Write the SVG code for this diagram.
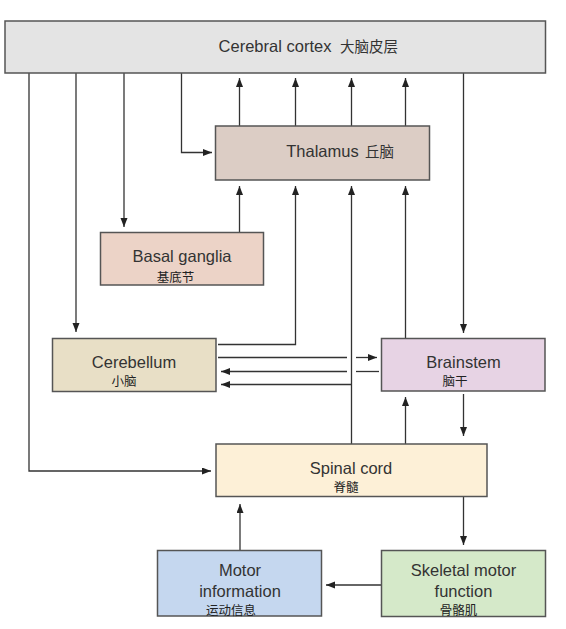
<svg xmlns="http://www.w3.org/2000/svg" width="566" height="629" viewBox="0 0 566 629">
<style>
.box{stroke:#555;stroke-width:1.5}
.en{font-family:"Liberation Sans",Arial,sans-serif;font-size:16.5px;fill:#333;text-anchor:middle}
.zh{font-family:"Noto Sans CJK SC",sans-serif;font-size:12.5px;fill:#222;text-anchor:middle}
.zhb{font-family:"Noto Sans CJK SC",sans-serif;font-size:14.5px;fill:#333}
.ln{fill:none;stroke:#333;stroke-width:1.3}
.ar{marker-end:url(#ah)}
</style>
<defs>
<marker id="ah" markerUnits="userSpaceOnUse" markerWidth="10" markerHeight="8" refX="9" refY="3.5" orient="auto">
<path d="M0,0 L9,3.5 L0,7 z" fill="#222"/>
</marker>
</defs>
<rect width="566" height="629" fill="#fff"/>
<g id="connectors">
<path class="ln ar" d="M29,73 V471 H211"/>
<path class="ln ar" d="M76,73 V332"/>
<path class="ln ar" d="M124,73 V227"/>
<path class="ln ar" d="M181.5,73 V152.5 H212"/>
<path class="ln ar" d="M463.5,73 V333"/>
<path class="ln ar" d="M239.5,126 V78"/>
<path class="ln ar" d="M295.5,126 V78"/>
<path class="ln ar" d="M351.5,126 V78"/>
<path class="ln ar" d="M405.5,126 V78"/>
<path class="ln ar" d="M239.5,232.5 V186"/>
<path class="ln ar" d="M218,344.5 H295.5 V186"/>
<path class="ln ar" d="M351.5,444 V186"/>
<path class="ln ar" d="M351.5,384.5 H221"/>
<path class="ln ar" d="M405.5,338 V186"/>
<path class="ln" d="M218,357.5 H347"/>
<path class="ln ar" d="M356,357.5 H377"/>
<path class="ln" d="M379,371.5 H356"/>
<path class="ln ar" d="M347,371.5 H221"/>
<path class="ln ar" d="M405.5,444 V397"/>
<path class="ln ar" d="M463.5,394 V436"/>
<path class="ln ar" d="M463.5,497 V545"/>
<path class="ln ar" d="M381,585 H326"/>
<path class="ln ar" d="M240,550.5 V504"/>
</g>
<g id="cortex">
<rect class="box" x="5" y="21" width="540.5" height="52" fill="#e4e4e4"/>
<text class="en" x="275" y="52" font-size="17">Cerebral cortex</text>
<text class="zhb" x="340" y="52">大脑皮层</text>
</g>
<g id="thalamus">
<rect class="box" x="215.5" y="126" width="214" height="54" fill="#dccdc5"/>
<text class="en" x="322.5" y="157">Thalamus</text>
<text class="zhb" x="365" y="157">丘脑</text>
</g>
<g id="basal-ganglia">
<rect class="box" x="100.5" y="232.5" width="163" height="52.5" fill="#ecd3c7"/>
<text class="en" x="182" y="262">Basal ganglia</text>
<text class="zh" x="175.5" y="281.5">基底节</text>
</g>
<g id="cerebellum">
<rect class="box" x="52.5" y="338.5" width="163.5" height="53" fill="#e8dfc6"/>
<text class="en" x="134" y="367.5">Cerebellum</text>
<text class="zh" x="124" y="386">小脑</text>
</g>
<g id="brainstem">
<rect class="box" x="381.5" y="338.5" width="163.5" height="52.5" fill="#e7d3e4"/>
<text class="en" x="463.5" y="367.5">Brainstem</text>
<text class="zh" x="455" y="385.5">脑干</text>
</g>
<g id="spinal-cord">
<rect class="box" x="216" y="444" width="271" height="52.5" fill="#fdf0d7"/>
<text class="en" x="351" y="474">Spinal cord</text>
<text class="zh" x="346" y="492">脊髓</text>
</g>
<g id="motor-information">
<rect class="box" x="157.5" y="550.5" width="164" height="65.5" fill="#c5d7ef"/>
<text class="en" x="240" y="576">Motor</text>
<text class="en" x="240" y="597">information</text>
<text class="zh" x="231" y="614.5">运动信息</text>
</g>
<g id="skeletal-motor-function">
<rect class="box" x="381.5" y="550.5" width="164" height="66" fill="#d5e9c9"/>
<text class="en" x="463.5" y="576">Skeletal motor</text>
<text class="en" x="463.5" y="597">function</text>
<text class="zh" x="458.5" y="614.5">骨骼肌</text>
</g>
</svg>
